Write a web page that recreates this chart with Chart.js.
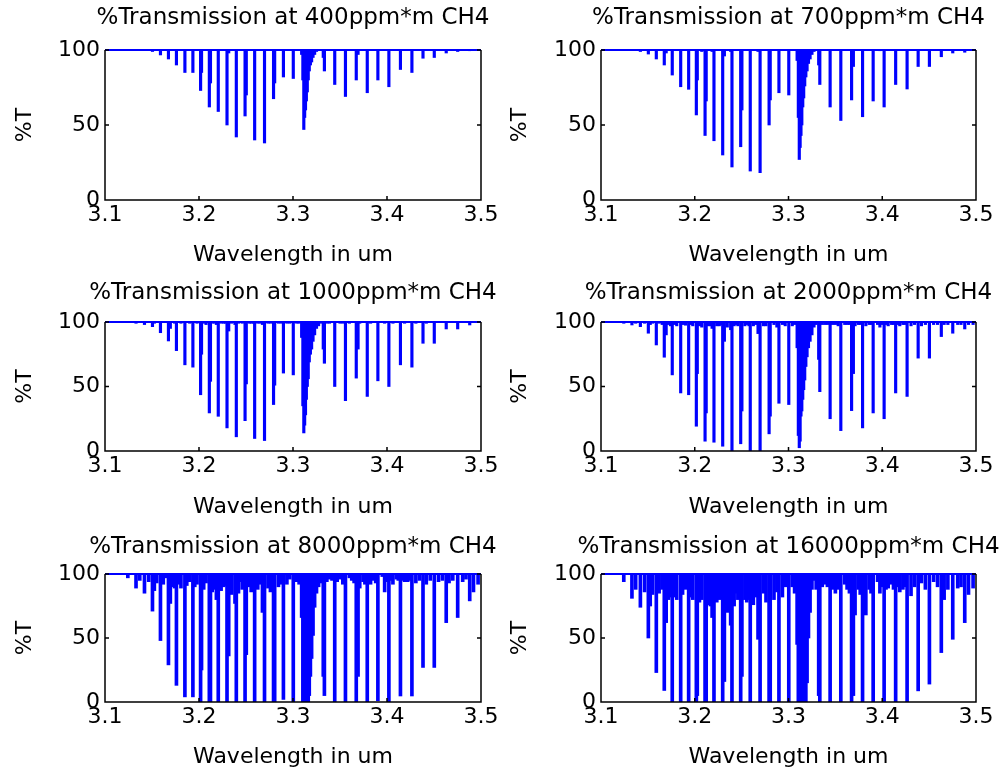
<!DOCTYPE html>
<html>
<head>
<meta charset="utf-8">
<script src="https://cdn.jsdelivr.net/npm/chart.js@4.4.0/dist/chart.umd.min.js"></script>
<style>
html, body { margin: 0; padding: 0; background: #fff; }
#page { position: relative; width: 1000px; height: 774px; overflow: hidden; background: #fff; }
#page canvas { position: absolute; }
</style>
</head>
<body>
<div id="page"></div>
<script>
// CH4 absorption lines, centre wavelength in um
const wavelengths = [
  3.1243, 3.1330, 3.1420, 3.1505, 3.1525, 3.1590, 3.1653, 3.1675, 3.1695, 3.1741,
  3.1760, 3.1808, 3.1850, 3.1901, 3.1935, 3.1979, 3.2017, 3.2027, 3.2075, 3.2110,
  3.2122, 3.2167, 3.2185, 3.2205, 3.2262, 3.2298, 3.2316, 3.2347, 3.2383, 3.2397,
  3.2440, 3.2490, 3.2503, 3.2578, 3.2592, 3.2675, 3.2697, 3.2734, 3.2793, 3.2805,
  3.2876, 3.2898, 3.2965, 3.3003, 3.3040, 3.3092, 3.3105, 3.3115, 3.3124, 3.3133,
  3.3142, 3.3152, 3.3162, 3.3173, 3.3185, 3.3198, 3.3213, 3.3230, 3.3250, 3.3272,
  3.3322, 3.3334, 3.3388, 3.3444, 3.3500, 3.3530, 3.3558, 3.3600, 3.3673, 3.3692,
  3.3710, 3.3790, 3.3825, 3.3903, 3.3950, 3.3975, 3.4020, 3.4063, 3.4100, 3.4143,
  3.4187, 3.4265, 3.4307, 3.4383, 3.4418, 3.4503, 3.4548, 3.4630, 3.4660, 3.4752,
  3.4805, 3.4880, 3.4920, 3.4969
];

// minimum %T of each line, one array per path concentration
const trans400 = [
  100, 100, 100, 99, 100, 96.7, 100, 94, 100, 100,
  90, 100, 85, 100, 85, 100, 73, 85, 100, 62,
  78, 100, 100, 59, 100, 50, 98, 100, 100, 42,
  100, 56, 70, 100, 40, 100, 38, 100, 67.5, 78,
  100, 82, 100, 81, 100, 97, 80, 47, 55, 60,
  66, 72, 80, 86, 90, 92, 95, 97, 99, 100,
  95, 86, 100, 77, 100, 100, 69, 100, 80, 97,
  100, 71.5, 100, 80, 100, 100, 75.5, 100, 100, 87,
  100, 85, 100, 94.5, 100, 95, 100, 98, 100, 99,
  100, 99.5, 100, 100
];
const trans700 = [
  100, 100, 99, 97.3, 100, 94, 100, 90, 98, 100,
  83.3, 100, 75.5, 100, 73.8, 100, 56.7, 80, 99, 43,
  66, 100, 99, 39.5, 100, 30, 96, 100, 99, 22,
  100, 35.5, 60, 100, 19.3, 99, 18.2, 100, 50, 66.7,
  100, 71.5, 100, 70, 100, 93, 55, 27, 35, 43,
  50, 62, 68, 76, 82, 86, 91, 94, 97, 99,
  90, 77, 100, 62, 100, 100, 53, 100, 66.7, 89,
  100, 55.5, 100, 66, 100, 99.5, 62, 100, 100, 77,
  100, 74, 100, 89, 100, 89, 100, 95.5, 100, 98,
  100, 98.5, 100, 100
];
const trans1000 = [
  100, 99, 98, 96.4, 99, 91.7, 99.5, 85.3, 95, 99,
  77.8, 99, 66.8, 99, 65, 99, 43.6, 75, 98, 29.5,
  54, 99, 98, 26.9, 99, 17.9, 93, 99, 98, 11,
  99.5, 23.5, 52, 99, 9.7, 98, 8.1, 99, 36, 51,
  99, 60.4, 99, 59, 99, 88, 35, 14, 20, 28,
  40, 50, 56, 69, 75, 79, 85, 90, 95, 97,
  79, 68, 99, 50, 99, 99, 39, 99, 56.5, 79,
  99, 42.3, 99, 54.4, 99.5, 99, 50, 99, 99.5, 66.8,
  99, 65, 99, 83.5, 99, 83.5, 99.5, 94.6, 99.5, 94.6,
  99.5, 97.7, 99.5, 99.5
];
const trans2000 = [
  99, 97.7, 96.4, 91.3, 98, 82.2, 98, 72.7, 90, 97,
  59, 97, 45, 97.5, 43.6, 97, 19.2, 60, 96, 7.6,
  29.5, 97, 95, 6.8, 97, 3.7, 85, 96, 94, 0,
  98, 5.6, 31, 97, 0, 91, 0, 97, 13.3, 27,
  96, 37, 97, 36, 97, 80, 12, 2.5, 7.6, 27,
  31, 40, 47.5, 55, 65.5, 73, 80, 85, 90, 96,
  71, 46, 98, 25, 98, 97, 15.8, 98, 31.3, 60,
  97, 17.9, 97, 29.5, 98, 96, 25, 97, 98, 45,
  97, 42.3, 97, 72, 97, 72, 98, 88.7, 98, 91.3,
  98, 94.6, 98, 98
];
const trans8000 = [
  97, 89, 85, 71, 87, 48, 97, 29, 77, 89,
  13, 89, 4, 94, 4, 92, 0, 25, 93, 0,
  0, 88, 80, 0, 90, 0, 36, 84, 77, 0,
  94, 0, 37, 93, 0, 70, 0, 89, 0, 0,
  92, 2, 96, 0, 94, 66, 0, 0, 0, 0,
  0, 0, 0, 5, 20, 34, 52, 74, 85, 90,
  20, 5, 96, 0, 96, 92, 0, 97, 0, 20,
  89, 0, 92, 1, 98, 86, 0, 92, 96, 4.7,
  94, 4.7, 93, 27, 92, 27, 94, 62, 93, 66,
  94, 79, 86, 92
];
const trans16000 = [
  94, 81, 74, 50, 75, 23, 88, 9, 62, 82,
  0, 80, 0, 88, 0, 80, 0, 5, 80, 0,
  0, 75, 66, 0, 80, 0, 16, 70, 60, 0,
  85, 0, 20, 80, 0, 49, 0, 85, 0, 0,
  86, 0, 90, 0, 90, 45, 0, 0, 0, 0,
  0, 0, 0, 0, 0, 15, 50, 70, 88, 95,
  5, 0, 92, 0, 85, 88, 0, 92, 0, 5,
  68, 0, 68, 0, 94, 85, 0, 89, 92, 0,
  86, 0, 83, 8.7, 93, 14, 94, 38.6, 80, 49,
  89, 62, 84, 89
];

// faint lines that only show at the long paths
const weakWavelengths = [
  3.1370, 3.1465, 3.1550, 3.1620, 3.1720, 3.1785, 3.1870, 3.1955, 3.2050, 3.2140,
  3.2235, 3.2280, 3.2420, 3.2460, 3.2535, 3.2555, 3.2625, 3.2650, 3.2760, 3.2845,
  3.2935, 3.3065, 3.3295, 3.3360, 3.3415, 3.3470, 3.3625, 3.3650, 3.3745, 3.3765,
  3.3860, 3.3880, 3.4000, 3.4040, 3.4120, 3.4165, 3.4220, 3.4240, 3.4345, 3.4460,
  3.4590, 3.4700, 3.4840
];
const weak400 = weakWavelengths.map(() => 100);
const weak700 = weakWavelengths.map(() => 100);
const weak1000 = [
  100, 100, 100, 100, 99.5, 99.5, 99.5, 99.5, 99, 99,
  99, 99, 99, 99, 99, 99, 99, 99, 99, 99,
  99, 99, 99, 99, 99.5, 99.5, 99.5, 99.5, 99.5, 99.5,
  99.5, 99.5, 99.5, 99.5, 99.5, 99.5, 99.5, 99.5, 99.5, 99.5,
  99.5, 99.5, 99.5
];
const weak2000 = [
  99, 99, 99, 99, 98, 98, 98, 98, 97, 97,
  97, 98, 97, 97, 97, 98, 97, 98, 97, 98,
  98, 98, 98, 98, 98, 98, 98, 98, 98, 98,
  98, 98, 98, 98, 98, 98, 98, 98, 98, 98,
  98, 98, 98
];
const weak8000 = [
  95, 94, 93, 92, 90, 92, 91, 90, 88, 86,
  87, 91, 85, 88, 90, 86, 88, 92, 86, 90,
  92, 92, 93, 94, 95, 94, 95, 93, 94, 92,
  95, 93, 94, 95, 95, 95, 94, 95, 95, 95,
  95, 95, 96
];
const weak16000 = [
  88, 86, 84, 85, 80, 82, 84, 82, 78, 76,
  78, 82, 75, 80, 80, 78, 76, 82, 78, 80,
  82, 85, 88, 90, 90, 88, 88, 85, 88, 84,
  88, 85, 90, 88, 88, 90, 88, 90, 90, 88,
  90, 88, 90
];

const concentrations = [400, 700, 1000, 2000, 8000, 16000];
const series = [trans400, trans700, trans1000, trans2000, trans8000, trans16000];
const weakSeries = [weak400, weak700, weak1000, weak2000, weak8000, weak16000];

const xTickValues = [3.1, 3.2, 3.3, 3.4, 3.5];
const xTickLabels = ['3.1', '3.2', '3.3', '3.4', '3.5'];
const yTickValues = [0, 50, 100];
const yTickLabels = ['0', '50', '100'];

const BLUE = '#0000ff';
const FONT = { family: "'DejaVu Sans', sans-serif", size: 22, weight: 'normal' };
const TITLE_FONT = { family: "'DejaVu Sans', sans-serif", size: 23, weight: 'normal' };
const LH = FONT.size * 1.2;
const TLH = TITLE_FONT.size * 1.2;

// where each subplot sits on the page; canvases are made symmetric
// about the plot so the title centres over it
const panels = [
  { left: 0,   plot: [105, 50, 481, 200],  top: 0,   height: 270, titleY: 18,  xLabelY: 255, yLabelX: 25 },
  { left: 496, plot: [601, 50, 976, 200],  top: 0,   height: 270, titleY: 18,  xLabelY: 255, yLabelX: 520 },
  { left: 0,   plot: [105, 322, 481, 451], top: 270, height: 255, titleY: 293, xLabelY: 507, yLabelX: 25 },
  { left: 496, plot: [601, 322, 976, 451], top: 270, height: 255, titleY: 293, xLabelY: 507, yLabelX: 520 },
  { left: 0,   plot: [105, 574, 481, 702], top: 525, height: 249, titleY: 547, xLabelY: 757, yLabelX: 25 },
  { left: 496, plot: [601, 574, 976, 702], top: 525, height: 249, titleY: 547, xLabelY: 757, yLabelX: 520 }
];

// black box with inward ticks (top edge is covered by the 100% line)
const framePlugin = {
  id: 'frame',
  afterDatasetsDraw(chart) {
    const { ctx, chartArea: a, scales: { x, y } } = chart;
    ctx.save();
    ctx.strokeStyle = '#000';
    ctx.lineWidth = 1.5;
    ctx.beginPath();
    ctx.moveTo(a.left, a.top);
    ctx.lineTo(a.left, a.bottom);
    ctx.lineTo(a.right, a.bottom);
    ctx.lineTo(a.right, a.top);
    xTickValues.forEach(v => {
      const px = x.getPixelForValue(v);
      ctx.moveTo(px, a.bottom);
      ctx.lineTo(px, a.bottom - 4);
    });
    yTickValues.forEach(v => {
      const py = y.getPixelForValue(v);
      ctx.moveTo(a.left, py);
      ctx.lineTo(a.left + 4, py);
      ctx.moveTo(a.right, py);
      ctx.lineTo(a.right - 4, py);
    });
    ctx.stroke();
    ctx.restore();
  }
};

function makePanel(p, i) {
  const cx = p.left, cy = p.top, ch = p.height;
  const [pl, pt, pr, pb] = p.plot;
  const yAxisWidth = pl - cx;
  const cw = (pr - cx) + yAxisWidth;
  const cv = document.createElement('canvas');
  cv.width = cw;
  cv.height = ch;
  cv.style.left = cx + 'px';
  cv.style.top = cy + 'px';
  cv.style.width = cw + 'px';
  cv.style.height = ch + 'px';
  document.getElementById('page').appendChild(cv);

  const titlePadTop = p.titleY - cy - TLH / 2;
  const titlePadBottom = (pt - cy) - TLH - titlePadTop;
  const xAxisHeight = (cy + ch) - pb;
  const xTitlePadBottom = (cy + ch) - p.xLabelY - LH / 2;
  const yTitlePadTop = p.yLabelX - cx - LH / 2;

  const values = series[i];
  const weak = weakSeries[i];
  const bars = wavelengths.map((w, k) => ({ x: w, y: [values[k], 100] }))
    .concat(weakWavelengths.map((w, k) => ({ x: w, y: [weak[k], 100] })));

  new Chart(cv, {
    type: 'bar',
    data: {
      datasets: [
        {
          type: 'bar',
          data: bars,
          backgroundColor: BLUE,
          borderWidth: 0,
          barThickness: i < 4 ? 2.5 : 3,
          order: 2
        },
        {
          type: 'line',
          data: [{ x: 3.1, y: 100 }, { x: 3.5, y: 100 }],
          borderColor: BLUE,
          borderWidth: 2,
          pointRadius: 0,
          clip: 4,
          order: 1
        }
      ]
    },
    options: {
      responsive: false,
      animation: false,
      devicePixelRatio: 1,
      layout: { padding: 0 },
      plugins: {
        legend: { display: false },
        tooltip: { enabled: false },
        title: {
          display: true,
          text: '%Transmission at ' + concentrations[i] + 'ppm*m CH4',
          fullSize: true,
          color: '#000',
          font: TITLE_FONT,
          padding: { top: titlePadTop, bottom: titlePadBottom }
        }
      },
      scales: {
        x: {
          type: 'linear',
          min: 3.1,
          max: 3.5,
          offset: false,
          grid: { display: false, drawTicks: false },
          border: { display: false },
          afterBuildTicks: s => { s.ticks = xTickValues.map(v => ({ value: v })); },
          afterFit: s => { s.height = xAxisHeight; s.paddingLeft = 0; s.paddingRight = 0; },
          ticks: {
            color: '#000',
            font: FONT,
            padding: 2,
            maxRotation: 0,
            autoSkip: false,
            callback: (v, k) => xTickLabels[k]
          },
          title: {
            display: true,
            text: 'Wavelength in um',
            color: '#000',
            font: FONT,
            padding: { top: 0, bottom: xTitlePadBottom }
          }
        },
        y: {
          min: 0,
          max: 100,
          grid: { display: false, drawTicks: false },
          border: { display: false },
          afterBuildTicks: s => { s.ticks = yTickValues.map(v => ({ value: v })); },
          afterFit: s => { s.width = yAxisWidth; s.paddingTop = 0; s.paddingBottom = 0; },
          ticks: {
            color: '#000',
            font: FONT,
            padding: 5,
            callback: (v, k) => yTickLabels[k]
          },
          title: {
            display: true,
            text: '%T',
            color: '#000',
            font: FONT,
            padding: { top: yTitlePadTop, bottom: 0 }
          }
        },
        // empty right-hand axis, only reserves space so the title centres over the plot
        yPad: {
          position: 'right',
          min: 0,
          max: 100,
          grid: { display: false, drawTicks: false },
          border: { display: false },
          ticks: { display: false },
          afterFit: s => { s.width = yAxisWidth; s.paddingTop = 0; s.paddingBottom = 0; }
        }
      }
    },
    plugins: [framePlugin]
  });
}

panels.forEach(makePanel);
</script>
</body>
</html>
